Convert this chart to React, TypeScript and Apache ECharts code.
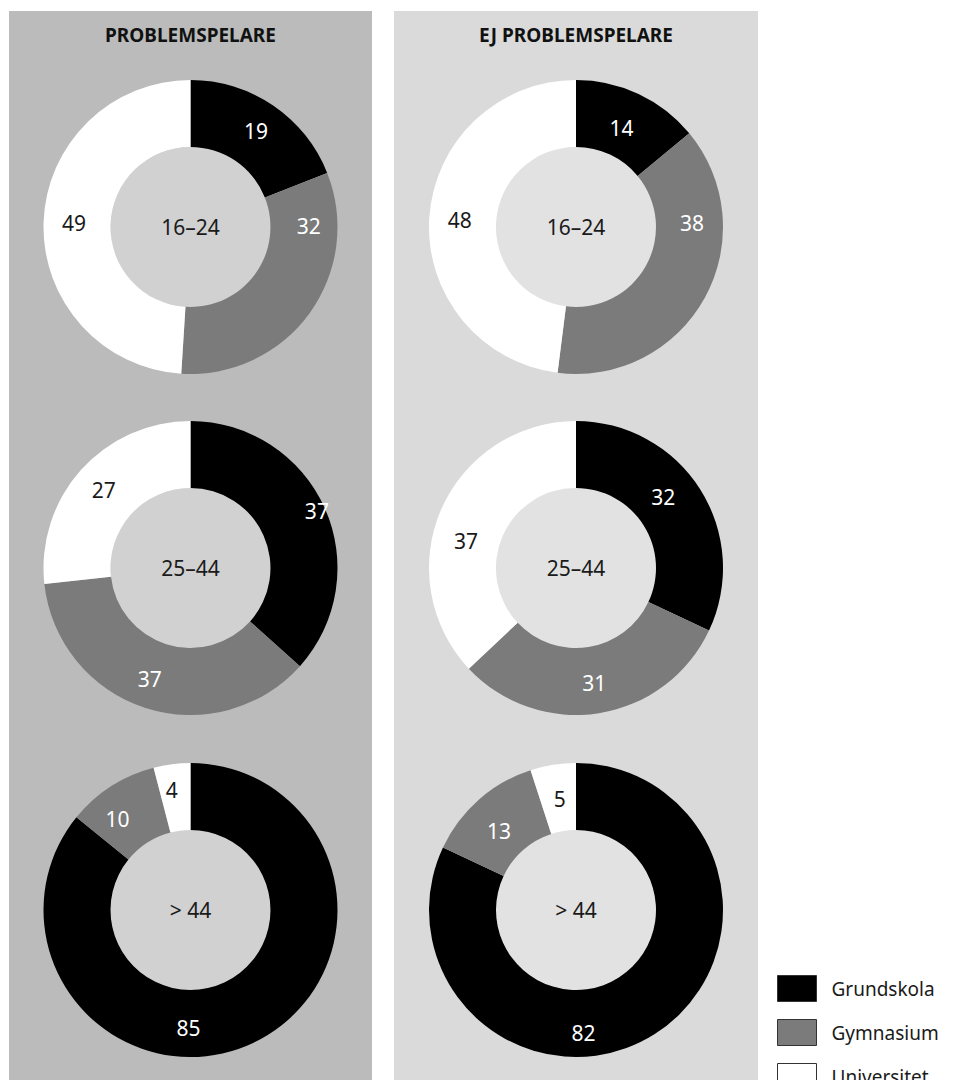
import { useEffect, useRef } from "react";
import * as echarts from "echarts";

// Education level categories (slice order, clockwise from 12 o'clock)
const categories = ["Grundskola", "Gymnasium", "Universitet"];
const ageGroups = ["16–24", "25–44", "> 44"];
const panelTitles = ["PROBLEMSPELARE", "EJ PROBLEMSPELARE"];

// Share (%) per education level, problem gamblers
const problem1624 = [19, 32, 49];
const problem2544 = [37, 37, 27];
const problemOver44 = [85, 10, 4];

// Share (%) per education level, non-problem gamblers
const nonProblem1624 = [14, 38, 48];
const nonProblem2544 = [32, 31, 37];
const nonProblemOver44 = [82, 13, 5];

const sliceColors = ["#000000", "#7b7b7b", "#ffffff"];
const labelColors = ["#ffffff", "#ffffff", "#1a1a1a"];
const panelColors = ["#babbba", "#d9dad9"];
const innerColors = ["#d0d1d0", "#e2e2e2"];

const FONT = "'Noto Sans', 'DejaVu Sans', sans-serif";

// Layout of the two panels and the three rows of donuts
const panelX = [9, 394];
const panelW = [363, 364];
const colCenterX = [190.5, 576];
const rowCenterY = [227, 568, 910];
const innerR = 80;
const outerR = 147;

// Hand nudges of individual value labels away from the slice midpoint
const labelNudge: Record<string, [number, number]> = {
  "0-0-1": [24, -69],
  "1-0-0": [-4, 6],
  "1-0-1": [14, -60],
  "0-1-0": [20, -10],
  "0-1-1": [-5, 0],
  "1-1-0": [-11, -9],
  "1-1-2": [-3, 19],
  "0-2-0": [-52, 13],
  "0-2-1": [-10, 7],
  "0-2-2": [-4, -4],
  "1-2-0": [-55, 25],
  "1-2-1": [0, 8],
  "1-2-2": [2, 4],
};

// The canvas runs a little past the visible page so the last legend row
// stays in its column and is simply clipped by the page edge.
const CHART_H = 1130;

export default function App() {
  const ref = useRef<HTMLDivElement>(null);

  useEffect(() => {
    document.body.style.margin = "0";
    if (!ref.current) return;
    const chart = echarts.init(ref.current, null, { renderer: "svg" });

    const groups = [
      [problem1624, problem2544, problemOver44],
      [nonProblem1624, nonProblem2544, nonProblemOver44],
    ];

    const series: any[] = [];

    groups.forEach((rows, col) => {
      rows.forEach((values, row) => {
        const center = [colCenterX[col], rowCenterY[row]];
        // inner disc carrying the age-group label
        series.push({
          type: "pie",
          center,
          radius: [0, innerR],
          silent: true,
          z: 1,
          label: {
            show: true,
            position: "center",
            formatter: "{b}",
            fontFamily: FONT,
            fontSize: 21,
            color: "#1a1a1a",
          },
          labelLine: { show: false },
          itemStyle: { color: innerColors[col] },
          data: [{ value: 1, name: ageGroups[row] }],
        });
        // education-level ring
        series.push({
          type: "pie",
          center,
          radius: [innerR, outerR],
          startAngle: 90,
          clockwise: true,
          avoidLabelOverlap: false,
          silent: true,
          z: 2,
          label: {
            show: true,
            position: "inside",
            formatter: "{c}",
            fontFamily: FONT,
            fontSize: 21,
          },
          labelLine: { show: false },
          labelLayout: (params: any) => {
            const n = labelNudge[`${col}-${row}-${params.dataIndex}`];
            return n ? { dx: n[0], dy: n[1] } : {};
          },
          data: categories.map((name, i) => ({
            name,
            value: values[i],
            itemStyle: { color: sliceColors[i] },
            label: { color: labelColors[i] },
          })),
        });
      });
    });

    chart.setOption({
      animation: false,
      graphic: [
        ...panelX.map((x, i) => ({
          type: "rect",
          z: -10,
          silent: true,
          shape: { x, y: 11, width: panelW[i], height: CHART_H },
          style: { fill: panelColors[i] },
        })),
        ...panelTitles.map((t, i) => ({
          type: "text",
          z: 5,
          silent: true,
          x: colCenterX[i],
          y: 35,
          style: {
            text: t,
            fontFamily: FONT,
            fontSize: 19,
            fontWeight: "bold",
            fill: "#111111",
            align: "center",
            verticalAlign: "middle",
          },
        })),
      ],
      legend: {
        data: categories,
        orient: "vertical",
        left: 777,
        top: 975,
        padding: 0,
        icon: "rect",
        itemWidth: 39,
        itemHeight: 26,
        itemGap: 17,
        selectedMode: false,
        itemStyle: { borderColor: "#333333", borderWidth: 1 },
        textStyle: {
          fontFamily: FONT,
          fontSize: 19,
          color: "#1a1a1a",
          padding: [0, 0, 0, 10],
        },
      },
      series,
    });

    return () => chart.dispose();
  }, []);

  return (
    <div
      ref={ref}
      style={{ position: "absolute", left: 0, top: 0, width: 954, height: CHART_H }}
    />
  );
}
